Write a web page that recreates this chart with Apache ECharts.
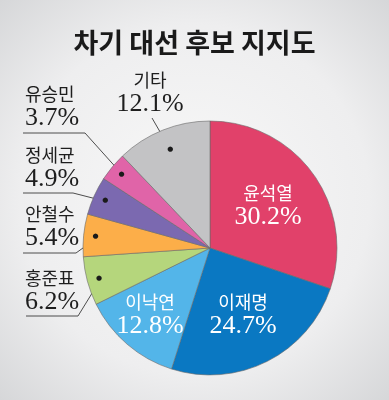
<!DOCTYPE html>
<html><head><meta charset="utf-8">
<script src="https://cdn.jsdelivr.net/npm/echarts@6/dist/echarts.min.js"></script>
<style>html,body{margin:0;padding:0;}#c{width:389px;height:400px;}</style>
</head><body><div id="c"></div>
<script>
const titleText = '차기 대선 후보 지지도';
const candidates = ['윤석열','이재명','이낙연','홍준표','안철수','정세균','유승민','기타'];
const support = [30.2, 24.7, 12.8, 6.2, 5.4, 4.9, 3.7, 12.1];
const sliceColors = ['#e1416a','#0a78c2','#53b5e9','#b5d67c','#fcae49','#7b69b0','#e064a8','#c3c3c5'];
const insideLabelled = [true, true, true, false, false, false, false, false];

// label layout (text block centres, underline turn x / y / left x), dot radius scale
const labelPos = [
  {x:268, y:205, align:'center'},
  {x:243, y:314, align:'center'},
  {x:150, y:314, align:'center'},
  {x:25,  y:290, align:'left', line:[78,316,26], k:1},
  {x:25,  y:226, align:'left', line:[76,253,23], k:1},
  {x:25,  y:167, align:'left', line:[73,193,23], k:1},
  {x:25,  y:106, align:'left', line:[85,133,23], k:1},
  {x:150, y:92,  align:'center', end:[152,118], k:104/112}
];

const CENTER = [210, 248];
const richFor = (color) => ({
  n: {fontFamily:'Noto Sans CJK KR', fontSize:18, lineHeight:24, color:color},
  p: {fontFamily:'Liberation Serif', fontSize:26, lineHeight:24, color:color}
});

const mainData = candidates.map((n,i)=>({
  name:n, value:support[i],
  itemStyle:{color:sliceColors[i]},
  label:{show:insideLabelled[i]}
}));
const dotData = candidates.map((n,i)=>({
  name:n, value:support[i],
  label:{show:!insideLabelled[i]}
}));
const textData = candidates.map((n,i)=>({
  name:n, value:support[i],
  label:{show:!insideLabelled[i]},
  labelLine:{show:!insideLabelled[i]}
}));

const scaleToward = (pt, k) => [CENTER[0] + (pt[0]-CENTER[0])*k, CENTER[1] + (pt[1]-CENTER[1])*k];

const chart = echarts.init(document.getElementById('c'), null, {renderer:'canvas'});
chart.setOption({
  backgroundColor:{type:'radial', x:0.5, y:0.5, r:0.75,
    colorStops:[{offset:0,color:'#f8f8f8'},{offset:0.6,color:'#eeeeef'},{offset:1,color:'#d3d4d6'}]},
  animation:false,
  title:{text:titleText, left:'center', top:24,
    textStyle:{fontFamily:'Noto Sans CJK KR', fontWeight:'bold', fontSize:27, color:'#1a1a1a'}},
  series:[
    {
      type:'pie', center:CENTER, radius:127, startAngle:90, clockwise:true,
      avoidLabelOverlap:false, silent:true,
      itemStyle:{borderColor:'#6a6a6a', borderWidth:0.6},
      label:{position:'inside', formatter:'{n|{b}}\n{p|{c}%}', rich:richFor('#ffffff')},
      labelLine:{show:false},
      labelLayout:(p)=>{ const l=labelPos[p.dataIndex]; return {x:l.x, y:l.y, align:l.align, verticalAlign:'middle'}; },
      data:mainData
    },
    {
      type:'pie', center:CENTER, radius:[100,124], startAngle:90, clockwise:true,
      avoidLabelOverlap:false, silent:true,
      itemStyle:{color:'transparent'},
      label:{position:'inside', formatter:'●', fontSize:7, color:'#1a1a1a', fontFamily:'DejaVu Sans'},
      labelLine:{show:false},
      labelLayout:(p)=>{
        const l=labelPos[p.dataIndex];
        if (!l.k || l.k===1) return {};
        const r=p.labelRect; const c=[r.x+r.width/2, r.y+r.height/2];
        const t=scaleToward(c, l.k);
        return {dx:t[0]-c[0], dy:t[1]-c[1]};
      },
      data:dotData
    },
    {
      type:'pie', center:CENTER, radius:[0,112], startAngle:90, clockwise:true,
      avoidLabelOverlap:false, silent:true,
      itemStyle:{color:'transparent'},
      label:{position:'outside', formatter:'{n|{b}}\n{p|{c}%}', rich:richFor('#1e1e1e')},
      labelLine:{show:true, length:10, length2:10, lineStyle:{color:'#3a3a3a', width:0.9}},
      labelLayout:(p)=>{
        const l=labelPos[p.dataIndex];
        const res={x:l.x, y:l.y, align:l.align, verticalAlign:'middle'};
        if (p.labelLinePoints) {
          const p0=scaleToward(p.labelLinePoints[0], l.k || 1);
          if (l.line) res.labelLinePoints=[p0,[l.line[0],l.line[1]],[l.line[2],l.line[1]]];
          else if (l.end) res.labelLinePoints=[p0,[l.end[0],l.end[1]],[l.end[0],l.end[1]]];
        }
        return res;
      },
      data:textData
    }
  ]
});
</script></body></html>
